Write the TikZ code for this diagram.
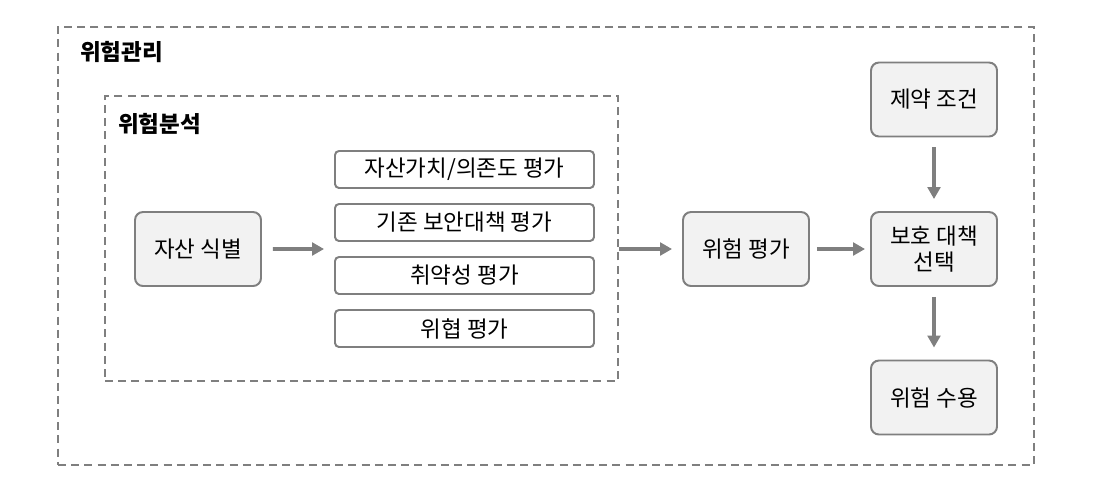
\documentclass[tikz,border=0pt]{standalone}
\usepackage{fontspec}
\setmainfont{Noto Sans CJK KR}
\usepackage{xcolor}
\usetikzlibrary{arrows.meta,positioning,calc}
\definecolor{Line}{HTML}{7F7F7F}
\definecolor{Fill}{HTML}{F2F2F2}

\tikzset{
  bigbox/.style={draw=Line, fill=Fill, line width=1.4pt, rounded corners=0.2cm,
    minimum width=3.15cm, minimum height=1.85cm, align=center,
    font=\fontsize{16}{18}\selectfont},
  subbox/.style={draw=Line, fill=white, line width=1.4pt, rounded corners=0.1cm,
    minimum width=6.475cm, minimum height=0.925cm, font=\fontsize{16}{18}\selectfont},
  dashbox/.style={draw=Line, line width=1.4pt, inner sep=0, dash pattern=on 0.2cm off 0.13cm},
  title/.style={anchor=west, inner sep=0, font=\bfseries\fontsize{16}{18}\selectfont},
  flow/.style={Line, line width=2.6pt, -{Triangle[length=0.3cm,width=0.32cm]}},
}

\begin{document}
\begin{tikzpicture}
  \useasboundingbox (0,0) rectangle (27.625,-12.025);

  % dashed groups
  \node[dashbox, minimum width=24.4cm, minimum height=10.95cm] (mgmt) at (13.65,-6.15) {};
  \node[title] (mgmttitle) at (2.0,-1.3) {위험관리};
  \node[dashbox, minimum width=12.825cm, minimum height=7.125cm] (analysis) at (9.0375,-5.9625) {};
  \node[title] (analysistitle) at (2.95,-3.1) {위험분석};

  % steps
  \node[bigbox] (asset) at (4.95,-6.225) {자산 식별};
  \foreach \y/\t/\n in {-4.2375/{자산가치/의존도 평가}/1,-5.5625/기존 보안대책 평가/2,
                        -6.8875/취약성 평가/3,-8.2125/위협 평가/4} {
    \node[subbox] (eval\n) at (11.6125,\y) {\t};
  }
  \coordinate (grpin) at ($(eval2.west)!0.5!(eval3.west)$);
  \node[bigbox] (riskeval) at (18.65,-6.225) {위험 평가};
  \node[bigbox] (select) at (23.35,-6.225) {보호 대책\\선택};
  \node[bigbox] (limit) at (23.35,-2.4875) {제약 조건};
  \node[bigbox] (accept) at (23.35,-9.9375) {위험 수용};

  \draw[flow, shorten <=0.275cm, shorten >=0.25cm] (asset) -- (grpin);
  \draw[flow, shorten >=0.25cm] (analysis.east |- riskeval.west) -- (riskeval);
  \draw[flow, shorten <=0.175cm, shorten >=0.125cm] (riskeval) -- (select);
  \draw[flow, shorten <=0.25cm, shorten >=0.3cm] (limit) -- (select);
  \draw[flow, shorten <=0.25cm, shorten >=0.3cm] (select) -- (accept);
\end{tikzpicture}
\end{document}
